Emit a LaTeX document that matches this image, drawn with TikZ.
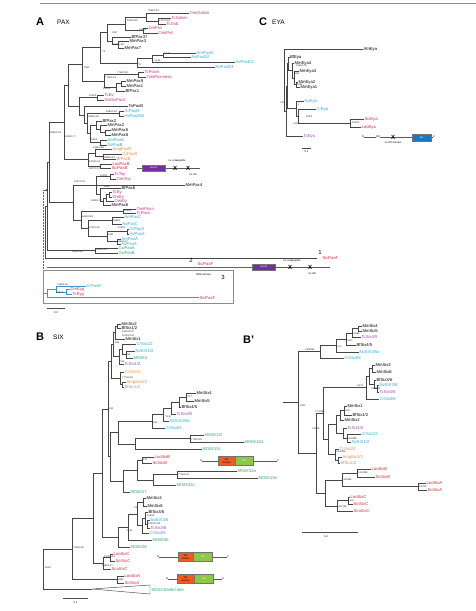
\documentclass[tikz,border=0pt]{standalone}
\usepackage{fontspec}
\setmainfont{Liberation Sans}
\usetikzlibrary{positioning}
\definecolor{pk}{RGB}{196,48,120}
\definecolor{cy}{RGB}{35,170,215}
\definecolor{og}{RGB}{232,135,60}
\definecolor{rd}{RGB}{212,38,58}
\definecolor{gn}{RGB}{40,165,110}
\definecolor{pu}{RGB}{140,80,170}
\definecolor{brgray}{RGB}{70,70,70}
\definecolor{rbdblue}{RGB}{60,150,200}
\definecolor{pairedpu}{RGB}{112,48,160}
\definecolor{sixog}{RGB}{240,90,35}
\definecolor{hdgn}{RGB}{140,200,70}
\definecolor{edblue}{RGB}{25,120,200}
\tikzset{
  br/.style={draw=brgray, line width=0.45pt},
  lf/.style={anchor=west, inner sep=0.4pt, font=\fontsize{4.2}{4.2}\selectfont},
  sup/.style={anchor=west, inner sep=0pt, font=\fontsize{2.4}{2.4}\selectfont, text=black!85},
  pnl/.style={anchor=west, inner sep=0pt, font=\fontsize{11}{11}\selectfont\bfseries},
  ttl/.style={anchor=west, inner sep=0pt, font=\fontsize{6.5}{6.5}\selectfont},
  tinytxt/.style={inner sep=0pt, font=\fontsize{2.6}{2.6}\selectfont},
  xmark/.style={inner sep=0pt, font=\fontsize{6}{6}\selectfont\bfseries},
  dom/.style={draw=black!55, line width=0.3pt, inner sep=0pt, align=center, font=\fontsize{2.4}{2.6}\selectfont},
  pairedbox/.style={dom, fill=pairedpu, text=white, minimum width=23pt, minimum height=6.5pt},
  sixbox/.style={dom, fill=sixog, minimum width=17pt, minimum height=9pt, anchor=west},
  hdbox/.style={dom, fill=hdgn, text=white, minimum width=18pt, minimum height=9pt, anchor=west},
  edbox/.style={dom, fill=edblue, text=white, minimum width=19pt, minimum height=7pt},
  dline/.style={draw=black!65, line width=0.4pt},
  scalebar/.style={draw=black!70, line width=0.6pt},
}
\newcounter{sv}
\newcommand{\cl}[5]{\draw[br] (#2,#3) -| (#1,#5) -- (#4,#5);}
\newcommand{\tip}[5]{\node[lf, text=#4] (#1) at (#2,#3) {#5};}
\newcommand{\bs}[3]{\stepcounter{sv}\node[sup] (sv\arabic{sv}) at (#1,#2) {#3};}
\begin{document}
\begin{tikzpicture}[x=1pt,y=-1pt]
\useasboundingbox (0,0) rectangle (476,611);
\draw[draw=black!45, line width=0.8pt] (40,3.5) -- (476,3.5);

% ---------- A: PAX
\node[pnl] (labA) at (36,22) {A};
\node[ttl] (ttlA) at (57,22) {PAX};

\tip{aOmiGalsin}{189}{13}{pk}{OmiGalsin}
\tip{aTcGalsin}{171}{18}{pk}{TcGalsin}
\tip{aTcGsb}{166}{24}{pk}{TcGsb}
\tip{aDmPrd}{148}{28}{pk}{DmPrd}
\tip{aOmiPrd}{158}{33}{pk}{OmiPrd}
\tip{aBfPax37}{131}{37}{black}{BfPax37}
\tip{aMmPax3}{129}{41}{black}{MmPax3}
\tip{aMmPax7}{124}{48}{black}{MmPax7}
\tip{aAmPaxD}{196}{53}{cy}{AmPaxD}
\tip{aNvPaxD2}{191}{57}{cy}{NvPaxD2}
\tip{aNvPaxD1}{235}{62}{cy}{NvPaxD1}
\tip{aNvPaxD3}{215}{67}{cy}{NvPaxD3}
\tip{aTcPoxm}{144}{72}{pk}{TcPoxm}
\tip{aOmiPoxmeso}{146}{77}{pk}{OmiPoxmeso}
\tip{aMmPax9}{126}{81}{black}{MmPax9}
\tip{aMmPax1}{126}{86}{black}{MmPax1}
\tip{aBfPax1}{125}{91}{black}{BfPax1}
\tip{aTcEv}{104}{95}{pk}{TcEv}
\tip{aDmSvPax2}{104}{100}{pk}{DmSvPax2}
\tip{aTaPaxB}{128}{106}{black}{TaPaxB}
\tip{aCrPaxBc}{124}{111}{cy}{CrPaxB}
\tip{aHvPax258}{124}{116}{cy}{HvPax258}
\tip{aBfPax2}{102}{121}{black}{BfPax2}
\tip{aMmPax2}{107}{125}{black}{MmPax2}
\tip{aMmPax5}{111}{130}{black}{MmPax5}
\tip{aMmPax8}{111}{135}{black}{MmPax8}
\tip{aAmPaxB}{107}{140}{cy}{AmPaxB}
\tip{aNvPaxB}{107}{145}{cy}{NvPaxB}
\tip{aAmgPaxB}{112}{149}{og}{AmgPaxB}
\tip{aCrPaxBo}{122}{154}{og}{CrPaxB}
\tip{aBfPaxB}{116}{159}{og}{BfPaxB}
\tip{aLooPaxB}{112}{164}{rd}{LooPaxB}
\tip{aSciPaxB}{111}{168}{rd}{SciPaxB}
\tip{aTcToy}{114}{174}{pk}{TcToy}
\tip{aOmiToy}{116}{179}{pk}{OmiToy}
\tip{aMmPax4}{185}{185}{black}{MmPax4}
\tip{aBfPax6}{121}{188}{black}{BfPax6}
\tip{aTcEy}{112}{192}{pk}{TcEy}
\tip{aDmEy}{112}{197}{pk}{DmEy}
\tip{aOmiEy}{114}{201}{pk}{OmiEy}
\tip{aMmPax6}{111}{205}{black}{MmPax6}
\tip{aOmiPoxn}{136}{209}{pk}{OmiPoxn}
\tip{aTcPoxn}{136}{213}{pk}{TcPoxn}
\tip{aAmPaxC}{124}{217}{cy}{AmPaxC}
\tip{aNvPaxC}{122}{224}{cy}{NvPaxC}
\tip{aCrPaxA}{129}{229}{cy}{CrPaxA}
\tip{aHvPaxA}{129}{234}{cy}{HvPaxA}
\tip{aAmPaxA}{121}{239}{cy}{AmPaxA}
\tip{aNvPaxA}{121}{244}{cy}{NvPaxA}
\tip{aCwPaxA}{118}{248}{gn}{CwPaxA}
\tip{aCwPaxB}{118}{253}{gn}{CwPaxB}

\cl{158}{171}{18}{166}{24}
\cl{146}{189}{13}{158}{21}
\cl{143}{148}{28}{158}{33}
\cl{125}{146}{17}{143}{30.5}
\cl{118}{129}{41}{124}{48}
\cl{112}{131}{37}{118}{44.5}
\cl{107}{125}{23.75}{112}{40.75}
\cl{163}{196}{53}{191}{57}
\cl{152}{163}{55}{235}{62}
\cl{137}{152}{58.5}{215}{67}
\cl{100}{107}{32.25}{137}{62.75}
\cl{138}{144}{72}{146}{77}
\cl{121}{126}{81}{126}{86}
\cl{116}{121}{83.5}{125}{91}
\cl{104}{138}{74.5}{116}{87.25}
\cl{82}{100}{47.5}{104}{80.9}
\cl{97}{104}{95}{104}{100}
\cl{119}{124}{111}{124}{116}
\cl{105}{111}{130}{111}{135}
\cl{100}{107}{125}{105}{132.5}
\cl{96}{102}{121}{100}{128.75}
\cl{100}{107}{140}{107}{145}
\cl{90}{96}{124.9}{100}{142.5}
\cl{87}{119}{113.5}{90}{133.7}
\cl{84}{128}{106}{87}{123.6}
\cl{79}{97}{97.5}{84}{114.8}
\cl{68}{82}{64.2}{79}{106.2}
\cl{103}{122}{154}{116}{159}
\cl{95}{112}{149}{103}{156.5}
\cl{100}{112}{164}{111}{168}
\cl{88}{95}{152.75}{100}{166}
\cl{64}{68}{85.2}{88}{159.4}
\cl{110}{114}{174}{116}{179}
\cl{109}{112}{192}{112}{197}
\cl{106}{109}{194.5}{114}{201}
\cl{103}{106}{197.75}{111}{205}
\cl{100}{121}{188}{103}{201.4}
\cl{96}{110}{176.5}{100}{194.7}
\draw[br] (96,185) -- (185,185);
\cl{123}{136}{209}{136}{213}
\cl{112}{124}{217}{122}{224}
\cl{127}{129}{229}{129}{234}
\cl{117}{121}{239}{121}{244}
\cl{107}{127}{231.5}{117}{241.5}
\cl{88}{112}{220.5}{107}{236.5}
\cl{81}{123}{211}{88}{228.5}
\cl{73}{96}{185.6}{81}{219.75}
\cl{49}{64}{122.3}{73}{202.7}
\cl{95}{118}{248}{118}{253}
\cl{47}{49}{162.5}{95}{250.5}
\cl{45}{47}{206.5}{317}{258}

\bs{148}{11}{7595/0.82}
\bs{159}{21}{3727/0.88}
\bs{127}{21}{5590/0.82}
\bs{139}{30}{1000/1}
\bs{112}{33}{5337}
\bs{113}{45}{5911/0.98}
\bs{164}{54}{*/5.27}
\bs{154}{61}{*/0.99}
\bs{138}{65}{*/1}
\bs{102}{52}{*/1}
\bs{117}{73}{7765/0.99}
\bs{105}{78}{7756/0.53}
\bs{103}{89}{1000/1}
\bs{84}{68}{5941}
\bs{89}{96}{1000/1}
\bs{106}{112}{8490/0.83}
\bs{88}{117}{9445/0.99}
\bs{90}{140}{3063/1}
\bs{50}{133}{9960/0.83}
\bs{65}{137}{4906/0.77}
\bs{93}{148}{4265/0.88}
\bs{104}{158}{9965/0.93}
\bs{89}{162}{9470/0.93}
\bs{89}{169}{9927/0.97}
\bs{100}{176}{1000/1}
\bs{74}{182}{6217/0.92}
\bs{104}{187}{9681}
\bs{91}{201}{6909/0.77}
\bs{124}{211}{1000/1}
\bs{82}{217}{6452/0.89}
\bs{113}{221}{5996/1}
\bs{89}{228}{6711/0.92}
\bs{118}{228}{1000/1}
\bs{108}{235}{9881}
\bs{117}{242}{9845/0.97}
\bs{96}{250}{9060/0.95}
\bs{72}{252}{5290/0.89}

% root marker and dotted link to the RBD tree
\coordinate (rootDot) at (47,190);
\coordinate (dotTop) at (43,190);
\coordinate (dotBot) at (43,292);
\draw[black!60, line width=0.5pt, densely dotted] (dotTop) -- (dotBot);
\draw[black!60, line width=0.4pt] (dotTop) -- (rootDot);
\fill[rd!70!black] (rootDot) circle (1.1pt);

% domain of SciPaxB
\coordinate (pxS) at (137,168);
\coordinate (pxE) at (200,168);
\draw[dline] (pxS) -- (pxE);
\node[pairedbox] (pxPaired) at (153.5,168) {paired};
\node[xmark] (pxX1) at (175,168) {X};
\node[xmark] (pxX2) at (188,168) {X};
\node[tinytxt] (pxOct) at (177,160.5) {no octapeptide};
\node[tinytxt] (pxHD) at (193,174.5) {no HD};

% SciPaxF lines
\node[inner sep=0pt, font=\fontsize{6}{6}\selectfont] (num1) at (320,252) {1};
\tip{aSciPaxF1}{322}{258}{rd}{SciPaxF}
\coordinate (pkS) at (47,267);
\coordinate (pkE) at (252,267);
\draw[pk, line width=0.6pt] (pkS) -- (pkE);
\node[inner sep=0pt, font=\fontsize{6}{6}\selectfont] (num2) at (191,260.5) {2};
\tip{aSciPaxF2}{197}{263.5}{rd}{SciPaxF}
\node[pairedbox, anchor=west] (pfPaired) at (252,267) {paired};
\coordinate (pfE) at (330,267);
\draw[dline] (pfPaired.east) -- (pfE);
\node[xmark] (pfX1) at (290,267) {X};
\node[xmark] (pfX2) at (310,267) {X};
\node[tinytxt] (pfOct) at (292,260.5) {no octapeptide};
\node[tinytxt] (pfHD) at (312,273.5) {no HD};

% RBD box
\draw[black!45, line width=0.5pt] (43,270) rectangle (233,303);
\node[tinytxt, anchor=west] (rbdTxt) at (196,274.5) {RBD domain};
\node[inner sep=0pt, font=\fontsize{6}{6}\selectfont] (num3) at (223,277) {3};
\tip{aCrPaxE}{86}{286}{cy}{CrPaxE}
\tip{aDmEyg}{70}{289.5}{pk}{DmEyg}
\tip{aTcEyg}{72}{294}{pk}{TcEyg}
\tip{aSciPaxF3}{199}{297.5}{rd}{SciPaxF}
\draw[br, draw=rbdblue] (70,289.5) -| (66,294) -- (72,294);
\draw[br, draw=rbdblue] (86,286) -| (56,291.75) -- (66,291.75);
\draw[br, draw=rbdblue] (56,288.9) -| (47,297.5) -- (199,297.5);
\draw[br, draw=rbdblue] (43,293.2) -- (47,293.2);
\bs{57}{285}{7195/0.59}
\bs{56}{292.5}{9867/1}

\draw[scalebar] (47,308) -- (65,308);
\node[tinytxt] (sbA) at (56,313) {0.2};

% ---------- C: EYA
\node[pnl] (labC) at (259,22) {C};
\node[ttl] (ttlC) at (272,22) {EYA};
\tip{cAthEya}{363}{49}{black}{AthEya}
\tip{cBfEya}{289.5}{57}{black}{BfEya}
\tip{cMmEya4}{294}{63}{black}{MmEya4}
\tip{cMmEya3}{299}{71}{black}{MmEya3}
\tip{cMmEya2}{298}{82}{black}{MmEya2}
\tip{cMmEya1}{300}{87}{black}{MmEya1}
\tip{cNvEya}{304}{101}{cy}{NvEya}
\tip{cCrEya}{316}{109}{cy}{CrEya}
\tip{cSciEya}{364}{119}{rd}{SciEya}
\tip{cLooEya}{361}{127}{rd}{LooEya}
\tip{cTcEya}{303}{136}{pu}{TcEya}
\cl{296}{298}{82}{300}{87}
\cl{294}{299}{71}{296}{84.5}
\cl{292.5}{294}{63}{294}{77.75}
\cl{288}{289.5}{57}{292.5}{70.4}
\cl{350}{364}{119}{361}{127}
\cl{298}{316}{109}{350}{123}
\cl{296}{304}{101}{298}{116}
\cl{287}{288}{63.7}{296}{108.5}
\cl{286}{287}{86.1}{303}{136}
\cl{284}{363}{49}{286}{111}
\bs{296}{66}{5090/0.76}
\bs{294}{74}{6601}
\bs{297}{84.5}{8283}
\bs{280}{103}{0.96}
\bs{298}{105}{1}
\bs{306}{117}{909/1}
\bs{352}{123}{1000/1}
\bs{293}{124}{0.98}
\draw[scalebar] (302,148) -- (311,148);
\node[tinytxt] (sbC) at (306.5,152) {0.2};

\node[tinytxt] (edN) at (363,137) {N};
\node[tinytxt] (edC) at (434,137) {C};
\draw[dline] (edN.east) -- (edC.west);
\node[tinytxt, fill=white, inner sep=0.4pt] (edSmall) at (378,137) {ED};
\node[xmark] (edX) at (393,137) {X};
\node[tinytxt] (edNo) at (393,143) {no ED domain};
\node[edbox] (edBox) at (421.5,137.5) {ED};

% ---------- B: SIX
\node[pnl] (labB) at (36,337) {B};
\node[ttl] (ttlB) at (53,337) {SIX};
\tip{bMmSix2}{121}{324}{black}{MmSix2}
\tip{bBfSixa}{121}{328}{black}{BfSix1/2}
\tip{bMmSix1}{125}{339}{black}{MmSix1}
\tip{bCrSixa}{136}{344}{cy}{CrSix1/2}
\tip{bNvSixa}{135}{351}{cy}{NvSIX1/2}
\tip{bMISIX1}{133}{358}{gn}{MISIX1}
\tip{bTcSixa}{124}{364}{pu}{TcSix1/2}
\tip{bCrSixb}{124}{372}{og}{CrSix1/2}
\tip{bAmgSix}{126}{382}{og}{AmgSix1/2}
\tip{bBfSixb}{124}{387}{og}{BfSix1/2}
\tip{bMmSix4}{196}{393}{black}{MmSix4}
\tip{bMmSix5}{194}{401}{black}{MmSix5}
\tip{bBfSixc}{181}{407}{black}{BfSix4/5}
\tip{bTcSixc}{176}{414}{pu}{TcSix4/5}
\tip{bNvSixc}{169}{421}{cy}{NvSIX4/5a}
\tip{bCrSixc}{165}{428}{cy}{CrSix4/5}
\tip{bMISIX13f}{204}{435}{gn}{MISIX13f}
\tip{bMISIX13d}{244}{442}{gn}{MISIX13d}
\tip{bMISIX13c}{202}{449}{gn}{MISIX13c}
\tip{bLooSixB}{154}{457}{rd}{LooSixB}
\tip{bSciSixB}{152}{463}{rd}{SciSixB}
\tip{bMISIX32a}{237}{471}{gn}{MISIX32a}
\tip{bMISIX13e}{258}{478}{gn}{MISIX13e}
\tip{bMISIX32c}{176}{485}{gn}{MISIX32c}
\tip{bMISIX27}{130}{492}{gn}{MISIX27}
\tip{bMmSix3}{146}{498}{black}{MmSix3}
\tip{bMmSix6}{147}{506}{black}{MmSix6}
\tip{bBfSixd}{148}{512}{black}{BfSix3/6}
\tip{bNvSixd}{150}{520}{cy}{NvSIX3/6}
\tip{bTcSixd}{150}{528}{pu}{TcSix3/6}
\tip{bCrSixd}{149}{533}{cy}{CrSix3/6}
\tip{bMISIX36}{152}{540}{gn}{MISIX36}
\tip{bMISIX28}{130}{547}{gn}{MISIX28}
\tip{bLooSixC}{113}{554}{rd}{LooSixC}
\tip{bSciSixC}{115}{561}{rd}{SciSixC}
\tip{bScaSixC}{111}{569}{rd}{ScaSixC}
\tip{bLooSixA}{124}{576}{rd}{LooSixA}
\tip{bSciSixA}{124}{583}{rd}{SciSixA}
\tip{bMISIX30}{151}{590}{gn}{MISIX30a/b/c/d/e}

\cl{117}{121}{324}{121}{328}
\cl{115}{117}{326}{125}{339}
\cl{126}{135}{351}{133}{358}
\cl{122}{136}{344}{126}{354.5}
\cl{119}{122}{349.25}{124}{364}
\cl{113}{115}{332.5}{119}{356.6}
\cl{122}{126}{382}{124}{387}
\cl{120}{124}{372}{122}{384.5}
\cl{111}{113}{344.6}{120}{378.25}
\cl{186}{196}{393}{194}{401}
\cl{179}{186}{397}{181}{407}
\cl{171}{179}{402}{176}{414}
\cl{163}{171}{408}{169}{421}
\cl{152}{163}{414.5}{165}{428}
\cl{190}{204}{435}{244}{442}
\cl{135}{190}{438.5}{202}{449}
\cl{118}{152}{421.25}{135}{443.75}
\cl{142}{154}{457}{152}{463}
\cl{177}{237}{471}{258}{478}
\cl{153}{177}{474.5}{176}{485}
\cl{137}{142}{460}{153}{479.75}
\cl{123}{137}{469.9}{130}{492}
\cl{110}{118}{432.5}{123}{480.9}
\cl{108}{111}{361.4}{110}{456.7}
\cl{143}{146}{498}{147}{506}
\cl{147}{150}{520}{150}{528}
\cl{145}{148}{512}{147}{524}
\cl{142}{145}{518}{149}{533}
\cl{137}{143}{502}{142}{525.5}
\cl{128}{137}{513.75}{152}{540}
\cl{118}{128}{526.9}{130}{547}
\cl{102}{108}{409}{118}{536.9}
\cl{110}{113}{554}{115}{561}
\cl{103}{110}{557.5}{111}{569}
\cl{93}{102}{473}{103}{563.25}
\cl{117}{124}{576}{124}{583}
\cl{72}{93}{518}{117}{579.5}
\cl{43}{72}{548.75}{92}{589}
\draw[br] (92,589) -- (150,585) -- (150,594) -- cycle;

\bs{122}{332}{10000/0.97}
\bs{122}{336}{10000/0.87}
\bs{115}{343}{880}
\bs{126}{355}{998}
\bs{120}{362}{796}
\bs{122}{378}{7770/0.95}
\bs{109}{409}{530}
\bs{187}{397}{*/0.7}
\bs{165}{417}{*/0.57}
\bs{153}{423}{544}
\bs{191}{440}{7729/0.85}
\bs{143}{460}{517}
\bs{178}{475}{7716/0.92}
\bs{134}{508}{785}
\bs{147}{516}{1000/1}
\bs{148}{524}{10000/0.83}
\bs{126}{531}{*/0.51}
\bs{73}{548}{7309/0.55}
\bs{104}{557}{5176/0.55}
\bs{102}{566}{3392/0.87}
\bs{45}{568}{992/1}
\bs{118}{579.5}{9991}

\draw[scalebar] (63,598) -- (88,598);
\node[tinytxt] (sbB) at (75.5,603) {0.2};

% SIX domain diagrams
\node[tinytxt] (sdN1) at (201,461) {N};
\node[tinytxt] (sdC1) at (278,461) {C};
\draw[dline] (sdN1.east) -- (sdC1.west);
\node[sixbox] (sdSix1) at (218,461) {SIX\\domain};
\node[hdbox] (sdHD1) at (sdSix1.east) {HD};
\node[tinytxt] (sdN2) at (158,557) {N};
\node[tinytxt] (sdC2) at (228,557) {C};
\draw[dline] (sdN2.east) -- (sdC2.west);
\node[sixbox, minimum width=15pt] (sdSix2) at (178,557) {SIX\\domain};
\node[hdbox, minimum width=19pt] (sdHD2) at (sdSix2.east) {HD};
\node[tinytxt] (sdN3) at (167,579) {N};
\node[tinytxt] (sdC3) at (223,579) {C};
\draw[dline] (sdN3.east) -- (sdC3.west);
\node[sixbox] (sdSix3) at (177,579) {SIX\\domain};
\node[hdbox, minimum width=19pt] (sdHD3) at (sdSix3.east) {HD};

% ---------- B': SIX (Bayesian)
\node[pnl] (labBp) at (243,340) {B’};
\tip{pMmSix4}{362}{326}{black}{MmSix4}
\tip{pMmSix5}{362}{331}{black}{MmSix5}
\tip{pTcSixc}{361}{337}{pu}{TcSix4/5}
\tip{pBfSixc}{356}{345}{black}{BfSix4/5}
\tip{pNvSixc}{359}{352}{cy}{NvSIX4/5a}
\tip{pCrSixc}{344}{358}{cy}{CrSix4/5}
\tip{pMmSix3}{375}{365}{black}{MmSix3}
\tip{pMmSix6}{376}{372}{black}{MmSix6}
\tip{pBfSixd}{376}{380}{black}{BfSix3/6}
\tip{pNvSixd}{379}{385}{cy}{NvSIX3/6}
\tip{pTcSixd}{379}{392}{pu}{TcSix3/6}
\tip{pCrSixd}{379}{399}{cy}{CrSix3/6}
\tip{pMmSix1}{347}{406}{black}{MmSix1}
\tip{pBfSixa}{352}{415}{black}{BfSix1/2}
\tip{pMmSix2}{344}{420}{black}{MmSix2}
\tip{pTcSixa}{347}{428}{pu}{TcSix1/2}
\tip{pCrSixa}{361}{434}{cy}{CrSix1/2}
\tip{pNvSixa}{351}{442}{cy}{NvSIX1/2}
\tip{pCrSixb}{339}{449}{og}{CrSix1/2}
\tip{pAmgSix}{342}{457}{og}{AmgSix1/2}
\tip{pBfSixb}{340}{463}{og}{BfSix1/2}
\tip{pLooSixB}{371}{469}{rd}{LooSixB}
\tip{pSciSixB}{375}{477}{rd}{SciSixB}
\tip{pLooSixA}{426}{483}{rd}{LooSixA}
\tip{pSciSixA}{427}{490}{rd}{SciSixA}
\tip{pLooSixC}{350}{497}{rd}{LooSixC}
\tip{pSciSixC}{353}{504}{rd}{SciSixC}
\tip{pScaSixC}{353}{511}{rd}{ScaSixC}

\cl{358}{362}{326}{362}{331}
\cl{352}{358}{328.5}{361}{337}
\cl{346}{352}{332.75}{356}{345}
\cl{336}{346}{338.9}{359}{352}
\cl{320}{336}{345.4}{344}{358}
\cl{372}{375}{365}{376}{372}
\cl{377}{379}{385}{379}{392}
\cl{374}{376}{380}{377}{388.5}
\cl{369}{372}{368.5}{374}{384.25}
\cl{366}{369}{376.4}{379}{399}
\cl{344}{347}{406}{352}{415}
\cl{340}{344}{410.5}{344}{420}
\cl{347}{361}{434}{351}{442}
\cl{343}{347}{428}{347}{438}
\cl{336}{340}{415.25}{343}{433}
\cl{338}{342}{457}{340}{463}
\cl{335}{339}{449}{338}{460}
\cl{328}{336}{424.1}{335}{454.5}
\cl{323}{366}{387.7}{328}{439.3}
\cl{357}{371}{469}{375}{477}
\cl{418}{426}{483}{427}{490}
\cl{342}{357}{473}{418}{486.5}
\cl{348}{350}{497}{353}{504}
\cl{337}{348}{500.5}{353}{511}
\cl{325}{342}{479.75}{337}{505.75}
\cl{316}{323}{413.5}{325}{492.75}
\cl{298}{320}{351.7}{316}{453.1}
\draw[br] (283,402.4) -- (298,402.4);

\bs{352}{334}{0.9964}
\bs{346}{340.5}{0.497}
\bs{336}{347}{0.76*}
\bs{305}{349.5}{0.88/955}
\bs{357}{386}{1/971}
\bs{371}{389}{0.97/100}
\bs{300}{406}{1000}
\bs{315}{412}{0.72/995}
\bs{344}{411}{0.99/...}
\bs{312}{429}{0.9526}
\bs{347}{438.5}{0.45/888}
\bs{336}{452}{0.91/998}
\bs{358}{473}{0.54/838}
\bs{342}{480}{0.45/889}
\bs{419}{487}{1/1000}
\bs{348}{501}{0.45/...}
\bs{337}{507}{0.85/745}

\draw[scalebar] (302,532) -- (358,532);
\node[tinytxt] (sbBp) at (326,536.5) {0.4};
\end{tikzpicture}
\end{document}
